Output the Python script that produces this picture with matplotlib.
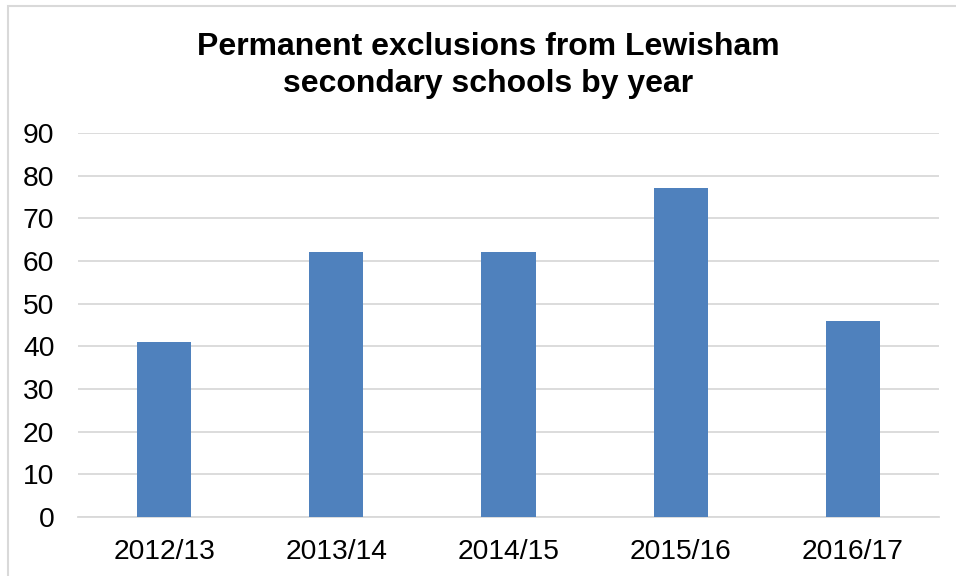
import matplotlib
matplotlib.use("Agg")
import matplotlib.pyplot as plt
from matplotlib.patches import Rectangle

years = ["2012/13", "2013/14", "2014/15", "2015/16", "2016/17"]
exclusions = [41, 62, 62, 77, 46]
y_ticks = [0, 10, 20, 30, 40, 50, 60, 70, 80, 90]

plt.rcParams["font.family"] = ["Liberation Sans", "DejaVu Sans"]

W, H = 956, 576
fig = plt.figure(figsize=(W / 100, H / 100), dpi=100)
fig.patch.set_facecolor("white")

# chart-area border
fig.add_artist(Rectangle((8 / W, -0.05), 1.2, 1 - 6 / H + 0.05,
                         transform=fig.transFigure, fill=False,
                         edgecolor="#D9D9D9", linewidth=1.5))

ax = fig.add_axes([78 / W, 1 - 517 / H, (939 - 78) / W, (517 - 133) / H])
x = range(len(years))
ax.bar(x, exclusions, width=0.314, color="#4F81BD", zorder=3)

ax.set_xlim(-0.5, len(years) - 0.5)
ax.set_ylim(0, 90)
ax.set_yticks(y_ticks)
ax.set_xticks(list(x))
ax.set_xticklabels(years)
ax.yaxis.grid(True, color="#D9D9D9", linewidth=1.3, zorder=0)
ax.set_axisbelow(True)
for s in ["top", "right", "left"]:
    ax.spines[s].set_visible(False)
ax.spines["bottom"].set_color("#D9D9D9")
ax.spines["bottom"].set_linewidth(1.3)
ax.tick_params(axis="both", length=0, labelsize=20.3, colors="black")
ax.tick_params(axis="y", pad=17)
ax.tick_params(axis="x", pad=16)

fig.text(488 / W, 1 - 65.5 / H,
         "Permanent exclusions from Lewisham\nsecondary schools by year",
         ha="center", va="center", fontsize=23, fontweight="bold",
         linespacing=1.27)

fig.savefig("out.png", dpi=100)
